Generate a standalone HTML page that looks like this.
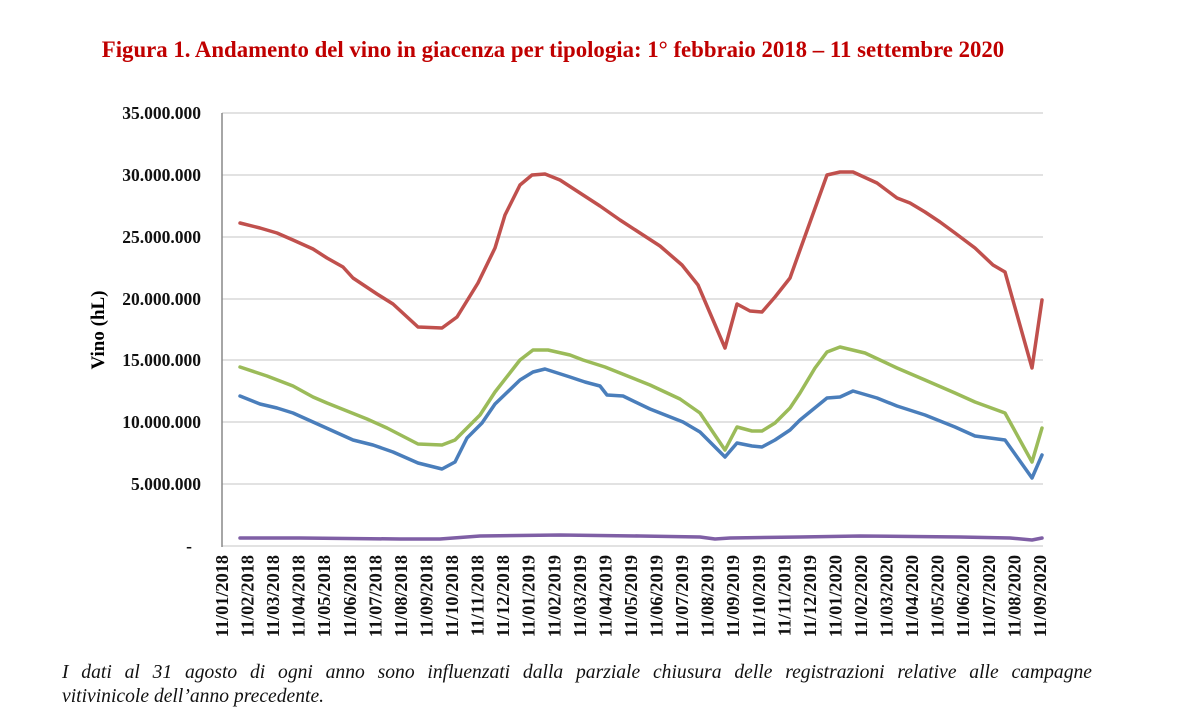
<!DOCTYPE html>
<html><head><meta charset="utf-8"><style>
body{margin:0;background:#fff;}
svg text{font-family:"Liberation Serif",serif;}
.foot{position:absolute;left:62px;width:1030px;font-family:"Liberation Serif",serif;font-style:italic;font-size:19.6px;line-height:24px;color:#111;white-space:nowrap;}
.l1{top:661px;text-align:justify;text-align-last:justify;}
.l2{top:685px;}
</style></head><body>
<div style="position:relative;width:1200px;height:726px;overflow:hidden">
<svg width="1200" height="726" viewBox="0 0 1200 726" style="position:absolute;left:0;top:0">
<text x="553" y="57" text-anchor="middle" font-size="22.8" font-weight="bold" fill="#c00000">Figura 1. Andamento del vino in giacenza per tipologia: 1° febbraio 2018 – 11 settembre 2020</text>
<g stroke="#d9d9d9" stroke-width="1.5">
<line x1="222" y1="113" x2="1043" y2="113"/><line x1="222" y1="175" x2="1043" y2="175"/>
<line x1="222" y1="237" x2="1043" y2="237"/><line x1="222" y1="299" x2="1043" y2="299"/>
<line x1="222" y1="360" x2="1043" y2="360"/><line x1="222" y1="422" x2="1043" y2="422"/>
<line x1="222" y1="484" x2="1043" y2="484"/><line x1="222" y1="546" x2="1043" y2="546"/>
</g>
<line x1="222" y1="113" x2="222" y2="547" stroke="#888" stroke-width="1.5"/>
<g font-size="17.5" font-weight="bold" text-anchor="end" fill="#111">
<text x="201" y="119">35.000.000</text><text x="201" y="181">30.000.000</text>
<text x="201" y="243">25.000.000</text><text x="201" y="305">20.000.000</text>
<text x="201" y="366">15.000.000</text><text x="201" y="428">10.000.000</text>
<text x="201" y="490">5.000.000</text><text x="192" y="552">-</text>
</g>
<text transform="translate(104,330) rotate(-90)" text-anchor="middle" font-size="19" font-weight="bold">Vino (hL)</text>
<g font-size="18.3" font-weight="bold" fill="#111" text-anchor="end" id="xl"></g>
<g fill="none" stroke-width="3.5" stroke-linejoin="round" stroke-linecap="round">
<polyline stroke="#7f5fa5" points="240,538 300,538 400,539 440,539 480,536 560,535 640,536 700,537 715,539 730,538 800,537 860,536 960,537 1010,538 1032,540 1042,538"/>
<polyline stroke="#4a7ebb" points="240,396 260,404 277,408 293,413 313,422 333,431 353,440 373,445 393,452 418,463 442,469 455,462 467,438 482,423 495,404 520,380 533,372 545,369 570,377 585,382 600,386 607,395 623,396 650,409 683,422 700,432 725,457 737,443 752,446 762,447 775,440 790,430 800,420 827,398 840,397 853,391 877,398 897,406 925,415 955,427 975,436 1005,440 1032,478 1042,455"/>
<polyline stroke="#9bbb59" points="240,367 267,376 293,386 313,397 327,403 347,411 367,419 387,428 418,444 442,445 455,440 480,415 495,392 520,360 533,350 548,350 570,355 583,360 605,367 625,375 650,385 680,399 700,413 725,450 737,427 752,431 762,431 775,423 790,408 800,393 815,368 827,352 840,347 865,353 897,368 925,380 955,393 975,402 1005,413 1032,462 1042,428"/>
<polyline stroke="#c0504d" points="240,223 260,228 277,233 293,240 313,249 327,258 343,267 353,278 377,294 393,304 418,327 442,328 457,317 478,283 495,248 505,215 520,185 532,175 545,174 560,180 580,193 600,206 620,220 640,233 660,246 682,265 698,285 725,348 737,304 750,311 762,312 775,297 790,278 800,250 827,175 840,172 853,172 877,183 897,198 910,203 925,212 940,222 955,233 975,248 993,265 1005,272 1032,368 1042,300"/>
</g>
</svg>
<div class="foot l1">I dati al 31 agosto di ogni anno sono influenzati dalla parziale chiusura delle registrazioni relative alle campagne</div>
<div class="foot l2">vitivinicole dell’anno precedente.</div>
</div>
<script>
var g=document.getElementById('xl'),s='';
for(var i=0;i<33;i++){var m=i%12+1,y=2018+Math.floor(i/12);var x=222+i*25.56+6;
s+='<text transform="translate('+x.toFixed(1)+',555) rotate(-90)">11/'+(m<10?'0':'')+m+'/'+y+'</text>';}
g.innerHTML=s;
</script>
</body></html>
